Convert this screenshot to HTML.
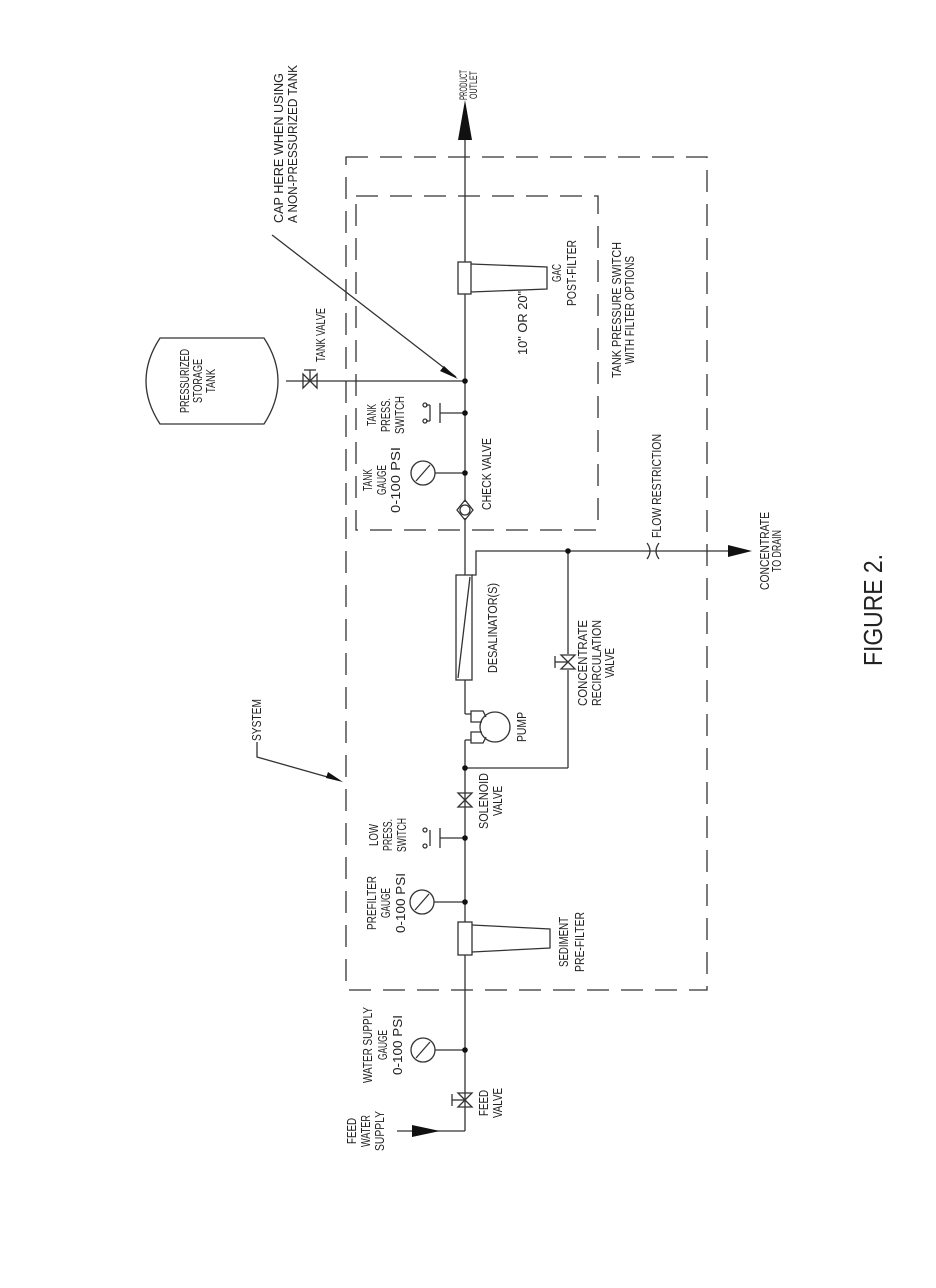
<!DOCTYPE html>
<html><head><meta charset="utf-8"><style>
html,body{margin:0;padding:0;background:#fff}
svg{display:block}
text{font-family:"Liberation Sans",sans-serif;fill:#222}
</style></head><body>
<svg width="936" height="1288" viewBox="0 0 936 1288" xmlns="http://www.w3.org/2000/svg">
<g stroke="#333" stroke-width="1.3" fill="none">
<rect x="346" y="157" width="361" height="833" stroke-dasharray="22 12"/>
<rect x="356" y="196" width="242" height="334" stroke-dasharray="22 12"/>
<line x1="465" y1="135" x2="465" y2="262"/>
<line x1="465" y1="294" x2="465" y2="502"/>
<line x1="465" y1="518" x2="465" y2="575"/>
<line x1="465" y1="680" x2="465" y2="714"/>
<line x1="465" y1="740" x2="465" y2="922"/>
<line x1="465" y1="955" x2="465" y2="1131"/>
<line x1="397" y1="1131" x2="465" y2="1131"/>
<line x1="286" y1="381" x2="465" y2="381"/>
<path d="M160 338 L264 338 Q292 381 264 424 L160 424 Q132 381 160 338 Z"/>
<polyline points="272,235 276,238 456,377"/>
<rect x="458" y="262" width="13" height="32" fill="#fff"/>
<path d="M471 264 L547 267 L547 289 L471 292"/>
<rect x="458" y="922" width="14" height="33" fill="#fff"/>
<path d="M472 925 L550 929 L550 948 L472 952"/>
<rect x="456" y="575" width="16" height="105" fill="#fff"/>
<line x1="458" y1="678" x2="470" y2="577"/>
<polyline points="472,575 476,575 476,551 730,551"/>
<line x1="568" y1="551" x2="568" y2="654"/>
<line x1="568" y1="670" x2="568" y2="768"/>
<line x1="465" y1="768" x2="568" y2="768"/>
<circle cx="495" cy="727" r="15"/>
<path d="M465 714 L471 714 L471 711 L483 711 L486 717 M471 714 L471 722 L482 722"/>
<path d="M465 740 L471 740 L471 743 L483 743 L486 737 M471 740 L471 732 L482 732"/>
<circle cx="423" cy="473" r="12"/><line x1="416" y1="481" x2="430" y2="465"/><line x1="435" y1="473" x2="465" y2="473"/>
<circle cx="422" cy="902" r="12"/><line x1="415" y1="910" x2="429" y2="894"/><line x1="434" y1="902" x2="465" y2="902"/>
<circle cx="423" cy="1050" r="12"/><line x1="416" y1="1058" x2="430" y2="1042"/><line x1="435" y1="1050" x2="465" y2="1050"/>
<line x1="440" y1="413" x2="465" y2="413"/><line x1="440" y1="403" x2="440" y2="423"/>
<path d="M430 405 L430 421 M426 405 l4 0 M426 421 l4 0"/><circle cx="425" cy="405" r="2"/><circle cx="425" cy="421" r="2"/>
<line x1="440" y1="838" x2="465" y2="838"/><line x1="440" y1="828" x2="440" y2="848"/>
<path d="M430 830 L430 846"/><circle cx="425" cy="830" r="2"/><circle cx="425" cy="846" r="2"/>
<path d="M458 793 L472 793 L458 807 L472 807 Z"/>
<path d="M458 1093 L472 1093 L458 1107 L472 1107 Z"/><line x1="452" y1="1100" x2="465" y2="1100"/><line x1="452" y1="1094" x2="452" y2="1106"/>
<path d="M561 655 L575 655 L561 669 L575 669 Z"/><line x1="555" y1="662" x2="568" y2="662"/><line x1="555" y1="656" x2="555" y2="668"/>
<path d="M303 374 L303 388 L317 374 L317 388 Z"/><line x1="310" y1="381" x2="310" y2="370"/><line x1="304" y1="370" x2="316" y2="370"/>
<path d="M465 500 L473 510 L465 520 L457 510 Z"/><circle cx="465" cy="510" r="5"/>
<path d="M647 543 Q653 551 647 559 M659 543 Q653 551 659 559"/>
<polyline points="257,742 257,757 338,780"/>
</g>
<g fill="#111">
<polygon points="465,100 458,140 472,140"/>
<polygon points="752,551 728,545 728,557"/>
<polygon points="440,1131 412,1125 412,1137"/>
<polygon points="458,379 444,366 440,371"/>
<polygon points="343,782 328,772 326,778"/>
<circle cx="465" cy="381" r="2.8"/><circle cx="465" cy="413" r="2.8"/><circle cx="465" cy="473" r="2.8"/>
<circle cx="568" cy="551" r="2.8"/><circle cx="465" cy="768" r="2.8"/><circle cx="465" cy="838" r="2.8"/>
<circle cx="465" cy="902" r="2.8"/><circle cx="465" cy="1050" r="2.8"/>
</g>
<g font-size="12.5">
<g transform="translate(467,85) rotate(-90)"><text x="0" y="0" text-anchor="middle" textLength="30" lengthAdjust="spacingAndGlyphs" font-size="11">PRODUCT</text><text x="0" y="10" text-anchor="middle" textLength="28" lengthAdjust="spacingAndGlyphs" font-size="11">OUTLET</text></g>
<g transform="translate(0,223) rotate(-90)"><text x="0" y="283" textLength="150" lengthAdjust="spacingAndGlyphs">CAP HERE WHEN USING</text><text x="0" y="297" textLength="158" lengthAdjust="spacingAndGlyphs">A NON-PRESSURIZED TANK</text></g>
<g transform="translate(0,381) rotate(-90)"><text x="0" y="189" text-anchor="middle" textLength="64" lengthAdjust="spacingAndGlyphs">PRESSURIZED</text><text x="0" y="202" text-anchor="middle" textLength="44" lengthAdjust="spacingAndGlyphs">STORAGE</text><text x="0" y="215" text-anchor="middle" textLength="24" lengthAdjust="spacingAndGlyphs">TANK</text></g>
<g transform="translate(0,362) rotate(-90)"><text x="0" y="325" textLength="54" lengthAdjust="spacingAndGlyphs">TANK VALVE</text></g>
<g transform="translate(0,415) rotate(-90)"><text x="0" y="376" text-anchor="middle" textLength="22" lengthAdjust="spacingAndGlyphs">TANK</text><text x="0" y="390" text-anchor="middle" textLength="34" lengthAdjust="spacingAndGlyphs">PRESS.</text><text x="0" y="404" text-anchor="middle" textLength="38" lengthAdjust="spacingAndGlyphs">SWITCH</text></g>
<g transform="translate(0,480) rotate(-90)"><text x="0" y="372" text-anchor="middle" textLength="22" lengthAdjust="spacingAndGlyphs">TANK</text><text x="0" y="386" text-anchor="middle" textLength="30" lengthAdjust="spacingAndGlyphs">GAUGE</text><text x="0" y="400" text-anchor="middle" textLength="66" lengthAdjust="spacingAndGlyphs">0-100 PSI</text></g>
<g transform="translate(0,510) rotate(-90)"><text x="0" y="491" textLength="72" lengthAdjust="spacingAndGlyphs">CHECK VALVE</text></g>
<g transform="translate(0,273) rotate(-90)"><text x="0" y="561" text-anchor="middle" textLength="18" lengthAdjust="spacingAndGlyphs">GAC</text><text x="0" y="576" text-anchor="middle" textLength="66" lengthAdjust="spacingAndGlyphs">POST-FILTER</text></g>
<g transform="translate(0,323) rotate(-90)"><text x="0" y="527" text-anchor="middle" textLength="64" lengthAdjust="spacingAndGlyphs">10" OR 20"</text></g>
<g transform="translate(0,310) rotate(-90)"><text x="0" y="621" text-anchor="middle" textLength="136" lengthAdjust="spacingAndGlyphs">TANK PRESSURE SWITCH</text><text x="0" y="634" text-anchor="middle" textLength="108" lengthAdjust="spacingAndGlyphs">WITH FILTER OPTIONS</text></g>
<g transform="translate(0,538) rotate(-90)"><text x="0" y="661" textLength="104" lengthAdjust="spacingAndGlyphs">FLOW RESTRICTION</text></g>
<g transform="translate(0,551) rotate(-90)"><text x="0" y="769" text-anchor="middle" textLength="78" lengthAdjust="spacingAndGlyphs">CONCENTRATE</text><text x="0" y="781" text-anchor="middle" textLength="42" lengthAdjust="spacingAndGlyphs">TO DRAIN</text></g>
<g transform="translate(0,628) rotate(-90)"><text x="0" y="497" text-anchor="middle" textLength="90" lengthAdjust="spacingAndGlyphs">DESALINATOR(S)</text></g>
<g transform="translate(0,663) rotate(-90)"><text x="0" y="587" text-anchor="middle" textLength="86" lengthAdjust="spacingAndGlyphs">CONCENTRATE</text><text x="0" y="601" text-anchor="middle" textLength="86" lengthAdjust="spacingAndGlyphs">RECIRCULATION</text><text x="0" y="614" text-anchor="middle" textLength="30" lengthAdjust="spacingAndGlyphs">VALVE</text></g>
<g transform="translate(0,727) rotate(-90)"><text x="0" y="526" text-anchor="middle" textLength="30" lengthAdjust="spacingAndGlyphs">PUMP</text></g>
<g transform="translate(0,801) rotate(-90)"><text x="0" y="488" text-anchor="middle" textLength="56" lengthAdjust="spacingAndGlyphs">SOLENOID</text><text x="0" y="502" text-anchor="middle" textLength="30" lengthAdjust="spacingAndGlyphs">VALVE</text></g>
<g transform="translate(0,835) rotate(-90)"><text x="0" y="378" text-anchor="middle" textLength="22" lengthAdjust="spacingAndGlyphs">LOW</text><text x="0" y="392" text-anchor="middle" textLength="32" lengthAdjust="spacingAndGlyphs">PRESS.</text><text x="0" y="406" text-anchor="middle" textLength="34" lengthAdjust="spacingAndGlyphs">SWITCH</text></g>
<g transform="translate(0,903) rotate(-90)"><text x="0" y="376" text-anchor="middle" textLength="54" lengthAdjust="spacingAndGlyphs">PREFILTER</text><text x="0" y="390" text-anchor="middle" textLength="30" lengthAdjust="spacingAndGlyphs">GAUGE</text><text x="0" y="405" text-anchor="middle" textLength="60" lengthAdjust="spacingAndGlyphs">0-100 PSI</text></g>
<g transform="translate(0,942) rotate(-90)"><text x="0" y="568" text-anchor="middle" textLength="50" lengthAdjust="spacingAndGlyphs">SEDIMENT</text><text x="0" y="584" text-anchor="middle" textLength="60" lengthAdjust="spacingAndGlyphs">PRE-FILTER</text></g>
<g transform="translate(0,1045) rotate(-90)"><text x="0" y="372" text-anchor="middle" textLength="76" lengthAdjust="spacingAndGlyphs">WATER SUPPLY</text><text x="0" y="387" text-anchor="middle" textLength="30" lengthAdjust="spacingAndGlyphs">GAUGE</text><text x="0" y="402" text-anchor="middle" textLength="60" lengthAdjust="spacingAndGlyphs">0-100 PSI</text></g>
<g transform="translate(0,1103) rotate(-90)"><text x="0" y="488" text-anchor="middle" textLength="26" lengthAdjust="spacingAndGlyphs">FEED</text><text x="0" y="502" text-anchor="middle" textLength="30" lengthAdjust="spacingAndGlyphs">VALVE</text></g>
<g transform="translate(0,1131) rotate(-90)"><text x="0" y="356" text-anchor="middle" textLength="26" lengthAdjust="spacingAndGlyphs">FEED</text><text x="0" y="370" text-anchor="middle" textLength="32" lengthAdjust="spacingAndGlyphs">WATER</text><text x="0" y="384" text-anchor="middle" textLength="40" lengthAdjust="spacingAndGlyphs">SUPPLY</text></g>
<g transform="translate(0,720) rotate(-90)"><text x="0" y="261" text-anchor="middle" textLength="42" lengthAdjust="spacingAndGlyphs">SYSTEM</text></g>
<g transform="translate(0,610) rotate(-90)"><text x="0" y="882" text-anchor="middle" font-size="26" textLength="112" lengthAdjust="spacingAndGlyphs" fill="#444">FIGURE 2.</text></g>
</g>
</svg>
</body></html>
